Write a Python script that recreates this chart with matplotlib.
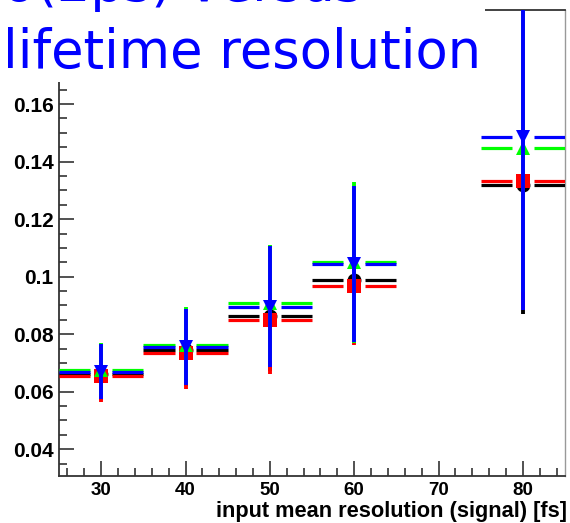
import matplotlib
matplotlib.use("Agg")
import matplotlib.pyplot as plt
import matplotlib.patches as mpatches
from matplotlib.ticker import MultipleLocator
import numpy as np

# input mean resolution (signal) [fs]
x_vals = np.array([30, 40, 50, 60, 80])
x_err = np.array([5, 5, 5, 5, 5])

# four series, values
black_y = [0.0661, 0.0746, 0.0862, 0.0989, 0.1320]
black_err = [0.0090, 0.0125, 0.0190, 0.0210, 0.0450]
red_y = [0.0654, 0.0736, 0.0850, 0.0969, 0.1334]
red_err = [0.0090, 0.0125, 0.0188, 0.0205, 0.0450]
green_y = [0.0676, 0.0763, 0.0909, 0.1050, 0.1447]
green_err = [0.0092, 0.0130, 0.0202, 0.0280, 0.0500]
blue_y = [0.0669, 0.0755, 0.0896, 0.1044, 0.1484]
blue_err = [0.0096, 0.0133, 0.0210, 0.0272, 0.0600]

series = [
    ("black", "o", black_y, black_err),
    ("#ff0000", "s", red_y, red_err),
    ("#00ff00", "^", green_y, green_err),
    ("#0000ff", "v", blue_y, blue_err),
]

GAP = 1.3  # horizontal gap around marker, in x units

fig = plt.figure(figsize=(5.70, 5.23), dpi=100)
ax = fig.add_axes([59 / 570, 47 / 523, 506 / 570, 466 / 523])

for i, (col, mk, yv, ye) in enumerate(series):
    z = 3 + i
    ax.hlines(yv, x_vals - x_err, x_vals - GAP, colors=col, linewidth=2.3, zorder=z)
    ax.hlines(yv, x_vals + GAP, x_vals + x_err, colors=col, linewidth=2.3, zorder=z)
    ax.errorbar(x_vals, yv, yerr=ye, fmt=mk, color=col, ecolor=col,
                elinewidth=2.8, markersize=10, capsize=0, mew=0, zorder=z)

ax.set_xlim(25, 85)
ax.set_ylim(0.0307, 0.1927)
ax.xaxis.set_minor_locator(MultipleLocator(2))
ax.yaxis.set_minor_locator(MultipleLocator(0.005))
ax.set_yticks([0.04, 0.06, 0.08, 0.1, 0.12, 0.14, 0.16])
ax.set_yticklabels(["0.04", "0.06", "0.08", "0.1", "0.12", "0.14", "0.16"])
ax.set_xticks([30, 40, 50, 60, 70, 80])
ax.set_xticklabels(["30", "40", "50", "60", "70", "80"])

for lab in ax.get_yticklabels():
    lab.set_fontfamily("Liberation Sans")
    lab.set_fontweight("bold")
    lab.set_fontsize(15)
for lab in ax.get_xticklabels():
    lab.set_fontfamily("Liberation Sans")
    lab.set_fontweight("bold")
    lab.set_fontsize(13.5)

ax.tick_params(which="both", direction="in", top=False, right=False, color="#333333", width=1.2)
ax.tick_params(which="major", length=11)
ax.tick_params(axis="y", which="major", pad=4)
ax.tick_params(axis="x", which="major", pad=4.5)
ax.tick_params(which="minor", length=5.5)
for side in ["left", "bottom", "top"]:
    ax.spines[side].set_color("#333333")
    ax.spines[side].set_linewidth(1.3)
ax.spines["right"].set_color("#999999")
ax.spines["right"].set_linewidth(1.0)

fig.text(567 / 570, 6.3 / 523, "input mean resolution (signal) [fs]", ha="right", va="baseline",
         family="Liberation Sans", weight="bold", size=15.7)

# title box covering the top of the frame
box = mpatches.Rectangle((0, 1 - 82 / 523), 485 / 570, 82 / 523, transform=fig.transFigure,
                         facecolor="white", edgecolor="none", zorder=10)
fig.add_artist(box)
fig.text(3 / 570, 1 - 1 / 523, "σ(2ps) versus", color="#0000ff", fontsize=38,
         family="DejaVu Sans", ha="left", va="baseline", zorder=11)
fig.text(3 / 570, 1 - 68 / 523, "lifetime resolution", color="#0000ff", fontsize=38,
         family="DejaVu Sans", ha="left", va="baseline", zorder=11)

fig.savefig("out.png", dpi=100)
